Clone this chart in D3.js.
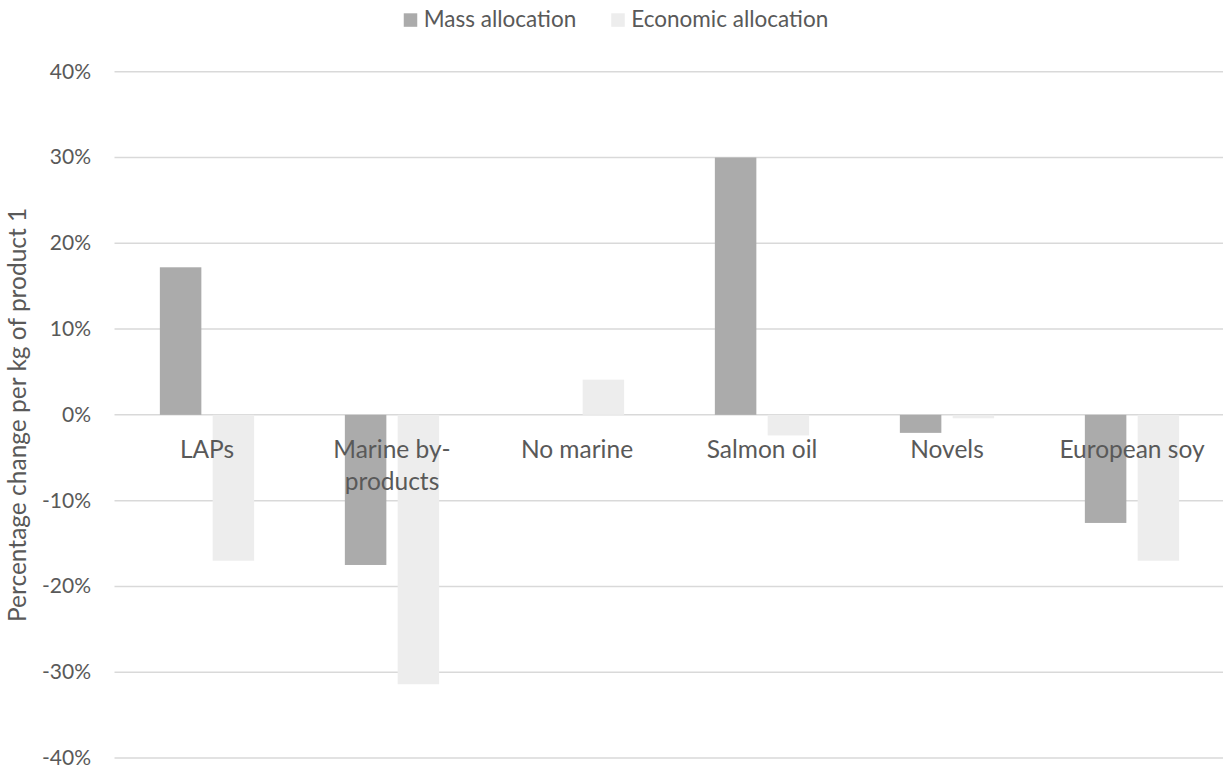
<!DOCTYPE html>
<html>
<head>
<meta charset="utf-8">
<script src="https://cdn.jsdelivr.net/npm/d3@7"></script>
<style>
  html, body { margin: 0; padding: 0; background: #ffffff; }
  svg { display: block; }
  text { font-family: Lato, "Open Sans", sans-serif; fill: #595959; }
</style>
</head>
<body>
<svg id="chart" width="1223" height="769"></svg>
<script>
// ---- data ----
const categories = [["LAPs"], ["Marine by-", "products"], ["No marine"], ["Salmon oil"], ["Novels"], ["European soy"]];
const seriesNames = ["Mass allocation", "Economic allocation"];
const massValues = [0.172, -0.175, 0, 0.300, -0.021, -0.126];
const economicValues = [-0.170, -0.314, 0.041, -0.024, -0.004, -0.170];
const yTicks = [-0.4, -0.3, -0.2, -0.1, 0, 0.1, 0.2, 0.3, 0.4];
const yTitle = "Percentage change per kg of product 1";
const colors = ["#ababab", "#ededed"];

// ---- layout ----
const plot = { left: 114.5, right: 1224.5, top: 71.7, bottom: 758 };
const svg = d3.select("#chart");

const catKeys = categories.map((c, i) => i);
const x0 = d3.scaleBand().domain(catKeys).range([plot.left, plot.right]).paddingInner(0).paddingOuter(0);
const x1 = d3.scaleBand().domain(seriesNames).range([0, x0.bandwidth()]).paddingInner(0.214).paddingOuter(0.859);
const y = d3.scaleLinear().domain([-0.4, 0.4]).range([plot.bottom, plot.top]);

// gridlines
svg.append("g").selectAll("line").data(yTicks).join("line")
  .attr("x1", plot.left).attr("x2", plot.right)
  .attr("y1", d => y(d)).attr("y2", d => y(d))
  .attr("stroke", "#d9d9d9").attr("stroke-width", 1.5);

// y tick labels
const yAxis = d3.axisLeft(y).tickValues(yTicks).tickSize(0).tickPadding(0)
  .tickFormat(d => Math.round(d * 100) + "%");
const ya = svg.append("g").attr("transform", `translate(91,0)`).call(yAxis);
ya.select(".domain").remove();
ya.selectAll("text").attr("font-size", 21).attr("fill", "#595959")
  .attr("font-family", "Lato, sans-serif").attr("dy", null).attr("y", 6.5);

// bars
const rows = catKeys.map(i => [
  { s: seriesNames[0], v: massValues[i], c: colors[0] },
  { s: seriesNames[1], v: economicValues[i], c: colors[1] }
]);
const groups = svg.append("g").selectAll("g").data(rows).join("g")
  .attr("transform", (d, i) => `translate(${x0(i)},0)`);
groups.selectAll("rect").data(d => d.filter(e => e.v !== 0)).join("rect")
  .attr("x", d => x1(d.s))
  .attr("width", x1.bandwidth())
  .attr("y", d => Math.min(y(d.v), y(0)))
  .attr("height", d => Math.abs(y(d.v) - y(0)))
  .attr("fill", d => d.c);

// category labels
const cl = svg.append("g").selectAll("text").data(categories).join("text")
  .attr("x", (d, i) => x0(i) + x0.bandwidth() / 2)
  .attr("y", 458)
  .attr("text-anchor", "middle")
  .attr("font-size", 24.5);
cl.selectAll("tspan").data(d => d).join("tspan")
  .attr("x", function () { return d3.select(this.parentNode).attr("x"); })
  .attr("dy", (d, j) => j === 0 ? 0 : 32)
  .text(d => d);

// y axis title
svg.append("text")
  .attr("transform", `translate(26,${(plot.top + plot.bottom) / 2}) rotate(-90)`)
  .attr("text-anchor", "middle")
  .attr("font-size", 24.5)
  .text(yTitle);

// legend
const legend = svg.append("g");
const items = legend.selectAll("g").data(seriesNames).join("g");
items.append("rect").attr("width", 13.5).attr("height", 13.5).attr("y", 13.3)
  .attr("fill", (d, i) => colors[i]);
items.append("text").attr("x", 20).attr("y", 26.5).attr("font-size", 22.5).text(d => d);
const widths = [];
items.each(function () { widths.push(this.getBBox().width); });
const gap = 35;
const total = d3.sum(widths) + gap * (widths.length - 1);
let start = 616 - total / 2;
items.attr("transform", (d, i) => {
  const t = `translate(${start},0)`;
  start += widths[i] + gap;
  return t;
});
</script>
</body>
</html>
